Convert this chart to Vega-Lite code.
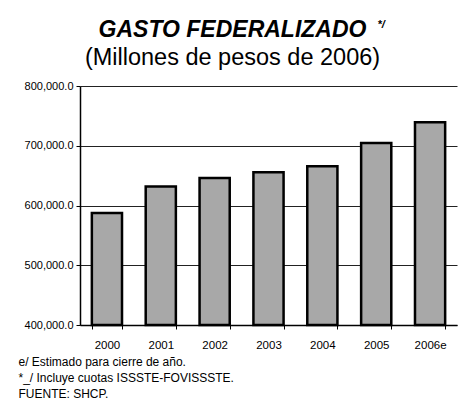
{
  "$schema": "https://vega.github.io/schema/vega-lite/v6.json",
  "width": 377,
  "height": 239,
  "autosize": {"type": "none"},
  "padding": {"left": 80, "top": 86, "right": 12, "bottom": 90},
  "background": "white",
  "title": {
    "text": "GASTO FEDERALIZADO",
    "subtitle": "(Millones de pesos de 2006)",
    "anchor": "middle",
    "dx": -36,
    "offset": -51,
    "font": "Liberation Sans",
    "fontSize": 23,
    "fontStyle": "italic",
    "fontWeight": "bold",
    "color": "black",
    "subtitleFont": "Liberation Sans",
    "subtitleFontSize": 23.5,
    "subtitleColor": "black",
    "subtitlePadding": 3.5
  },
  "data": {
    "values": [
      {"year": "2000", "gasto": 587500},
      {"year": "2001", "gasto": 632000},
      {"year": "2002", "gasto": 646000},
      {"year": "2003", "gasto": 655500},
      {"year": "2004", "gasto": 665500},
      {"year": "2005", "gasto": 704500},
      {"year": "2006e", "gasto": 739500}
    ]
  },
  "mark": {"type": "bar", "fill": "#a8a8a8", "stroke": "black", "strokeWidth": 2.5},
  "encoding": {
    "x": {
      "field": "year",
      "type": "nominal",
      "sort": null,
      "scale": {"paddingInner": 0.44, "paddingOuter": 0.22},
      "axis": {
        "labelAngle": 0,
        "labelFont": "Liberation Sans",
        "labelFontSize": 11.5,
        "labelColor": "black",
        "labelPadding": 10,
        "tickBand": "extent",
        "tickSize": 4,
        "tickColor": "black",
        "domainColor": "black",
        "domainWidth": 1.5,
        "title": ["e/ Estimado para cierre de año.", "*_/ Incluye cuotas ISSSTE-FOVISSSTE.", "FUENTE: SHCP."],
        "titleFont": "Liberation Sans",
        "titleFontSize": 12,
        "titleFontWeight": "normal",
        "titleColor": "black",
        "titleAnchor": "start",
        "titleAlign": "left",
        "titleBaseline": "alphabetic",
        "titleX": -62,
        "titleY": 40,
        "titleLineHeight": 16
      }
    },
    "y": {
      "field": "gasto",
      "type": "quantitative",
      "scale": {"domain": [400000, 800000], "zero": false},
      "axis": {
        "values": [400000, 500000, 600000, 700000, 800000],
        "format": ",.1f",
        "labelFont": "Liberation Sans",
        "labelFontSize": 11,
        "labelColor": "black",
        "labelPadding": 3,
        "tickSize": 4,
        "tickColor": "black",
        "domainColor": "black",
        "domainWidth": 1.5,
        "grid": true,
        "gridColor": "#222222",
        "gridWidth": 1,
        "title": "*/",
        "titleFont": "Liberation Sans",
        "titleFontSize": 11,
        "titleFontWeight": "bold",
        "titleColor": "black",
        "titleAngle": 0,
        "titleAlign": "left",
        "titleBaseline": "alphabetic",
        "titleX": 297,
        "titleY": -59
      }
    },
    "y2": {"datum": 400000}
  },
  "config": {
    "view": {"stroke": null},
    "axisY": {"titleFontStyle": "italic"}
  }
}
